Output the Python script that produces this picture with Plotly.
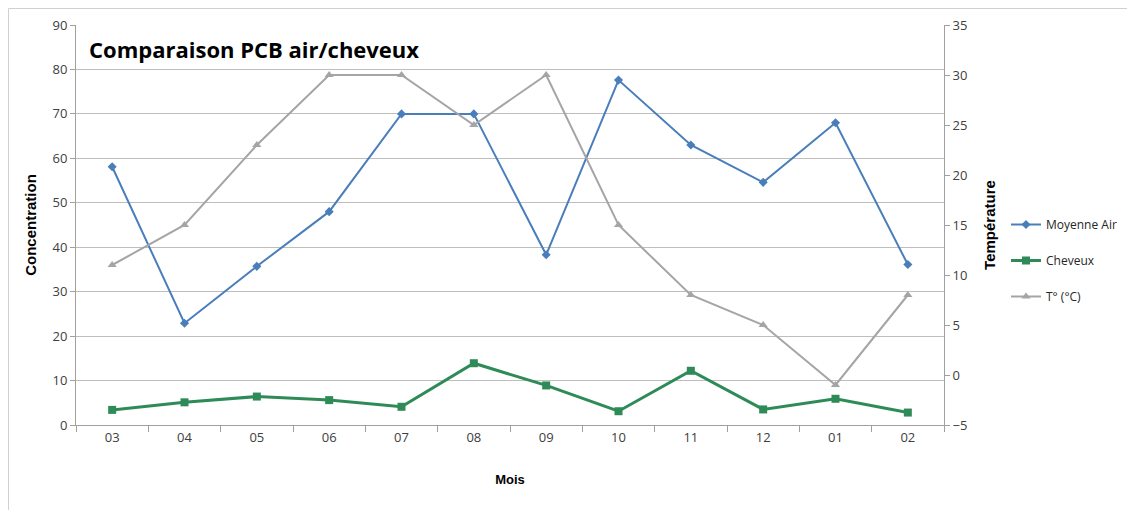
import plotly.graph_objects as go

months = ["03", "04", "05", "06", "07", "08", "09", "10", "11", "12", "01", "02"]
moyenne_air = [58.1, 22.9, 35.7, 48.0, 70.0, 70.0, 38.3, 77.6, 63.0, 54.6, 68.0, 36.1]
cheveux = [3.4, 5.1, 6.4, 5.6, 4.1, 13.9, 8.9, 3.1, 12.2, 3.5, 5.9, 2.8]
temperature = [11, 15, 23, 30, 30, 25, 30, 15, 8, 5, -1, 8]

left_ticks = list(range(0, 91, 10))
right_ticks = list(range(-5, 36, 5))

OFF = 8  # page body margin
W, H = 1135 - OFF, 510 - OFF
L, R, T, B = 76 - OFF, 944 - OFF, 25 - OFF, 425 - OFF

FONT = "Open Sans, Arial, sans-serif"
TFONT = "Liberation Sans, Arial, sans-serif"
TICK_COLOR = "#404040"

fig = go.Figure()
fig.add_trace(go.Scatter(
    x=months, y=moyenne_air, name="Moyenne Air", mode="lines+markers", legendgroup="a",
    line=dict(color="#4A7EBB", width=2),
    marker=dict(symbol="diamond", size=7, color="#4A7EBB"),
))
fig.add_trace(go.Scatter(
    x=months, y=cheveux, name="Cheveux", mode="lines+markers", legendgroup="b",
    line=dict(color="#2E8B57", width=3),
    marker=dict(symbol="square", size=8, color="#2E8B57"),
))
fig.add_trace(go.Scatter(
    x=months, y=temperature, name="T° (°C)", mode="lines+markers", yaxis="y2", legendgroup="c",
    line=dict(color="#A5A5A5", width=2),
    marker=dict(symbol="triangle-up", size=8, color="#A5A5A5"),
))

def px_x(px):
    return (px - OFF - L) / (R - L)

def px_y(py):
    return (B - (py - OFF)) / (B - T)

fig.update_layout(
    width=W, height=H,
    margin=dict(l=L, r=W - R, t=T, b=H - B, autoexpand=False),
    paper_bgcolor="white", plot_bgcolor="white",
    font=dict(family=FONT, size=13, color=TICK_COLOR),
    showlegend=True,
    legend=dict(
        xref="container", yref="container",
        x=(1006 - OFF) / W, y=1 - (210 - OFF) / H, xanchor="left", yanchor="top",
        font=dict(family=FONT, size=12, color="#262626"),
        itemwidth=30, tracegroupgap=17, bgcolor="rgba(0,0,0,0)",
    ),
    xaxis=dict(
        type="category", range=[-0.5, 11.5],
        showline=True, linecolor="#A0A0A0", linewidth=1,
        ticks="outside", ticklen=6, tickcolor="#A0A0A0", tickson="boundaries",
        showgrid=False, tickfont=dict(size=13, color=TICK_COLOR),
        title=dict(text="<b>Mois</b>", font=dict(family=TFONT, size=13, color="#000000"), standoff=30),
    ),
    yaxis=dict(
        range=[0, 90], tickvals=left_ticks,
        showline=True, linecolor="#A0A0A0", linewidth=1,
        ticks="outside", ticklen=5, tickcolor="#A0A0A0",
        showgrid=True, gridcolor="#BEBEBE", gridwidth=1,
        zeroline=False, tickfont=dict(size=13, color=TICK_COLOR),
        title=dict(text="<b>Concentration</b>", font=dict(family=TFONT, size=15, color="#000000"), standoff=12),
    ),
    yaxis2=dict(
        range=[-5, 35], tickvals=right_ticks, overlaying="y", side="right",
        showline=True, linecolor="#A0A0A0", linewidth=1,
        ticks="outside", ticklen=5, tickcolor="#A0A0A0",
        showgrid=False, zeroline=False, tickfont=dict(size=13, color=TICK_COLOR),
        title=dict(text="<b>Température</b>", font=dict(family=TFONT, size=15, color="#000000"), standoff=18),
    ),
    annotations=[dict(
        text="<b>Comparaison PCB air/cheveux</b>", xref="paper", yref="paper",
        x=px_x(87), y=px_y(49), xanchor="left", yanchor="middle", showarrow=False,
        font=dict(family=FONT, size=22, color="#000000"),
    )],
    shapes=[dict(
        type="rect", xref="paper", yref="paper",
        x0=px_x(8.5), x1=px_x(1145), y0=px_y(8.5), y1=px_y(520),
        line=dict(color="#D0D0D0", width=1), layer="below",
    )],
)

fig.write_html("out.html")
